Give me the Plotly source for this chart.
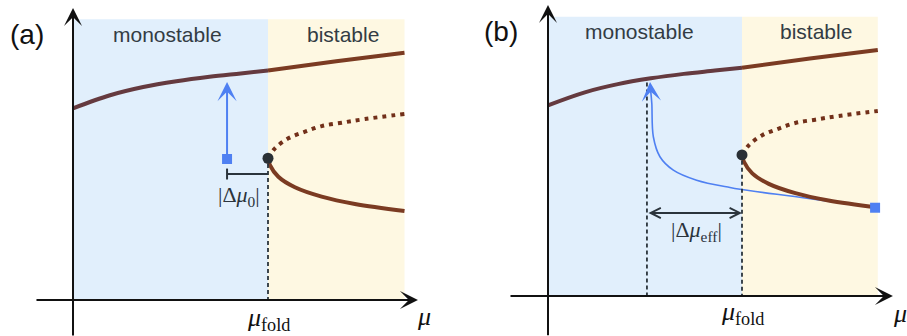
import plotly.graph_objects as go

# ---------------- data (schematic bifurcation diagram) -------------
MU_FOLD = 1.0          # fold point position
X_FOLD = 0.727         # state at the fold
MU_MAX = 1.70          # right end of the shaded regions
X_TOP = 1.44           # top of shaded regions

UPPER_MU = [0.0, 0.19, 0.36, 0.53, 0.70, 0.86, 1.0, 1.35, 1.70]
UPPER_X = [0.983, 1.050, 1.092, 1.122, 1.145, 1.162, 1.177, 1.224, 1.268]

UNSTABLE_MU = [1.0, 1.036, 1.104, 1.19, 1.275, 1.378, 1.497, 1.70]
UNSTABLE_X = [0.727, 0.778, 0.829, 0.863, 0.892, 0.909, 0.928, 0.954]

LOWER_MU = [1.0, 1.01, 1.053, 1.138, 1.275, 1.446, 1.70]
LOWER_X = [0.727, 0.692, 0.632, 0.578, 0.530, 0.492, 0.456]

# panel (a): static start point and jump
START_A_MU = 0.79
START_A_X = 0.723
TIP_A_X = 1.118

# panel (b): trajectory from the lower branch to the upper branch
TRAJ_MU = [1.686, 1.333, 0.99, 0.938, 0.766, 0.646, 0.577, 0.543, 0.535, 0.529]
TRAJ_X = [0.455, 0.504, 0.550, 0.559, 0.597, 0.649, 0.718, 0.821, 0.994, 1.06]
TIP_B = (0.526, 1.103)
MU_EFF = 0.51
MU_EFF_TOP = 1.10
DELTA_B_Y = 0.428

# axis extents (tail, tip) per panel
AXIS_A = dict(mu=(-0.195, 1.769), x=(-0.19, 1.497))
AXIS_B = dict(mu=(-0.201, 1.778), x=(-0.21, 1.50))

REGION_LABELS = ["monostable", "bistable"]
PANEL_LABELS = ["(a)", "(b)"]

# ---------------- styles ----------------
BROWN = "#7b3b22"
BROWN_DARK = "#653a3f"
BLUE = "#4f80f2"
DARK = "#2b343c"
AXIS = "#111111"
TEXT = "#333c44"
REG_BLUE = "#e1effc"
REG_YEL = "#fef8e2"

fig = go.Figure()

panels = [("x", "y"), ("x2", "y2")]


def line_trace(xs, ys, xr, yr, color, width, dash=None, shape="spline"):
    return go.Scatter(x=xs, y=ys, xaxis=xr, yaxis=yr, hoverinfo="skip", mode="lines",
                      line=dict(color=color, width=width, dash=dash, shape=shape))


for (xr, yr) in panels:
    lm = [m for m in UPPER_MU if m <= MU_FOLD]
    lx = UPPER_X[:len(lm)]
    rm = [m for m in UPPER_MU if m >= MU_FOLD]
    rx = UPPER_X[len(UPPER_MU) - len(rm):]
    fig.add_trace(line_trace(lm, lx, xr, yr, BROWN_DARK, 4))
    fig.add_trace(line_trace(rm, rx, xr, yr, BROWN, 4))
    fig.add_trace(line_trace(UNSTABLE_MU, UNSTABLE_X, xr, yr, "#72301a", 4, dash="4px,5px"))
    if xr == "x2":
        fig.add_trace(line_trace(TRAJ_MU, TRAJ_X, xr, yr, BLUE, 1.6))
    fig.add_trace(line_trace(LOWER_MU, LOWER_X, xr, yr, BROWN, 4))
    fig.add_trace(go.Scatter(x=[MU_FOLD], y=[X_FOLD], mode="markers",
                             marker=dict(color="#2a3035", size=11), xaxis=xr, yaxis=yr, hoverinfo="skip"))

fig.add_trace(go.Scatter(x=[START_A_MU], y=[START_A_X], mode="markers",
                         marker=dict(color=BLUE, size=10, symbol="square"), xaxis="x", yaxis="y"))
fig.add_trace(go.Scatter(x=[TRAJ_MU[0]], y=[TRAJ_X[0]], mode="markers",
                         marker=dict(color=BLUE, size=10, symbol="square"), xaxis="x2", yaxis="y2"))

shapes = []
for (xr, yr) in panels:
    shapes.append(dict(type="rect", xref=xr, yref=yr, x0=0, x1=MU_FOLD, y0=0, y1=X_TOP,
                       fillcolor=REG_BLUE, line=dict(width=0), layer="below"))
    shapes.append(dict(type="rect", xref=xr, yref=yr, x0=MU_FOLD, x1=MU_MAX, y0=0, y1=X_TOP,
                       fillcolor=REG_YEL, line=dict(width=0), layer="below"))
    shapes.append(dict(type="line", xref=xr, yref=yr, x0=MU_FOLD, x1=MU_FOLD, y0=X_FOLD - 0.03, y1=0,
                       line=dict(color=DARK, width=1.8, dash="4px,3px")))
shapes.append(dict(type="line", xref="x2", yref="y2", x0=MU_EFF, x1=MU_EFF, y0=MU_EFF_TOP, y1=0,
                   line=dict(color=DARK, width=1.8, dash="4px,3px")))
BR_Y = 0.646
shapes.append(dict(type="line", xref="x", yref="y", x0=START_A_MU, x1=MU_FOLD, y0=BR_Y, y1=BR_Y,
                   line=dict(color=DARK, width=2)))
shapes.append(dict(type="line", xref="x", yref="y", x0=START_A_MU, x1=START_A_MU, y0=BR_Y - 0.028, y1=BR_Y + 0.028,
                   line=dict(color=DARK, width=2)))

ann = []


def arrow(xr, yr, x0, y0, x1, y1, color, width, head, size, both=False):
    d = dict(xref=xr, yref=yr, axref=xr, ayref=yr, x=x1, y=y1, ax=x0, ay=y0, text="",
             showarrow=True, arrowhead=head, arrowsize=size, arrowwidth=width, arrowcolor=color,
             standoff=0, startstandoff=0)
    if both:
        d.update(arrowside="end+start", startarrowhead=head, startarrowsize=size)
    return d


for (xr, yr), axd in zip(panels, [AXIS_A, AXIS_B]):
    ann.append(arrow(xr, yr, axd["mu"][0], 0, axd["mu"][1], 0, AXIS, 2, 3, 1.5))
    ann.append(arrow(xr, yr, 0, axd["x"][0], 0, axd["x"][1], AXIS, 2, 3, 1.5))
ann.append(arrow("x", "y", START_A_MU, START_A_X, START_A_MU, TIP_A_X, BLUE, 2, 3, 1.6))
ann.append(arrow("x2", "y2", TRAJ_MU[-1], TRAJ_X[-1], TIP_B[0], TIP_B[1], BLUE, 1.6, 3, 2.0))
ann.append(arrow("x2", "y2", MU_EFF, DELTA_B_Y, MU_FOLD, DELTA_B_Y, DARK, 2, 5, 1.0, both=True))

SERIF = "Liberation Serif, DejaVu Serif, serif"
SANS = "Liberation Sans, Arial, Helvetica, sans-serif"


def label(xr, yr, x, y, text, size, color=TEXT, family=SANS):
    return dict(xref=xr, yref=yr, x=x, y=y, text=text, showarrow=False,
                font=dict(family=family, size=size, color=color), xanchor="center", yanchor="middle")


ann.append(label("x", "y", 0.487, 1.364, REGION_LABELS[0], 21))
ann.append(label("x", "y", 1.387, 1.364, REGION_LABELS[1], 21))
ann.append(label("x2", "y2", 0.474, 1.364, REGION_LABELS[0], 21))
ann.append(label("x2", "y2", 1.379, 1.364, REGION_LABELS[1], 21))
ann.append(label("x", "y", -0.236, 1.364, PANEL_LABELS[0], 28, "#111111"))
ann.append(label("x2", "y2", -0.24, 1.364, PANEL_LABELS[1], 28, "#111111"))

MU_FOLD_TXT = "<i>μ</i><sub>fold</sub>"
ann.append(label("x", "y", MU_FOLD, -0.095, MU_FOLD_TXT, 26, "#111111", SERIF))
ann.append(label("x2", "y2", MU_FOLD, -0.09, MU_FOLD_TXT, 26, "#111111", SERIF))
ann.append(label("x", "y", 1.80, -0.087, "<i>μ</i>", 26, "#111111", SERIF))
ann.append(label("x2", "y2", 1.814, -0.088, "<i>μ</i>", 26, "#111111", SERIF))
ann.append(label("x", "y", 0.851, 0.533, "|Δ<i>μ</i><sub>0</sub>|", 22, DARK, SERIF))
ann.append(label("x2", "y2", 0.763, 0.335, "|Δ<i>μ</i><sub>eff</sub>|", 22, DARK, SERIF))

ax_common = dict(visible=False, showgrid=False, zeroline=False, fixedrange=True)
fig.update_layout(
    width=907, height=336, margin=dict(l=0, r=0, t=0, b=0),
    paper_bgcolor="white", plot_bgcolor="white", showlegend=False,
    xaxis=dict(domain=[0, 0.5], range=[-0.3744, 1.9513], **ax_common),
    yaxis=dict(domain=[0, 1], range=[-0.1846, 1.5385], **ax_common),
    xaxis2=dict(domain=[0.5, 1], range=[-0.4871, 1.8505], anchor="y2", **ax_common),
    yaxis2=dict(domain=[0, 1], range=[-0.2062, 1.5258], anchor="x2", **ax_common),
    shapes=shapes, annotations=ann,
)

fig.write_html("out.html", config={"displayModeBar": False, "staticPlot": True},
               post_script="document.body.style.margin='0';document.body.style.overflow='hidden';")
